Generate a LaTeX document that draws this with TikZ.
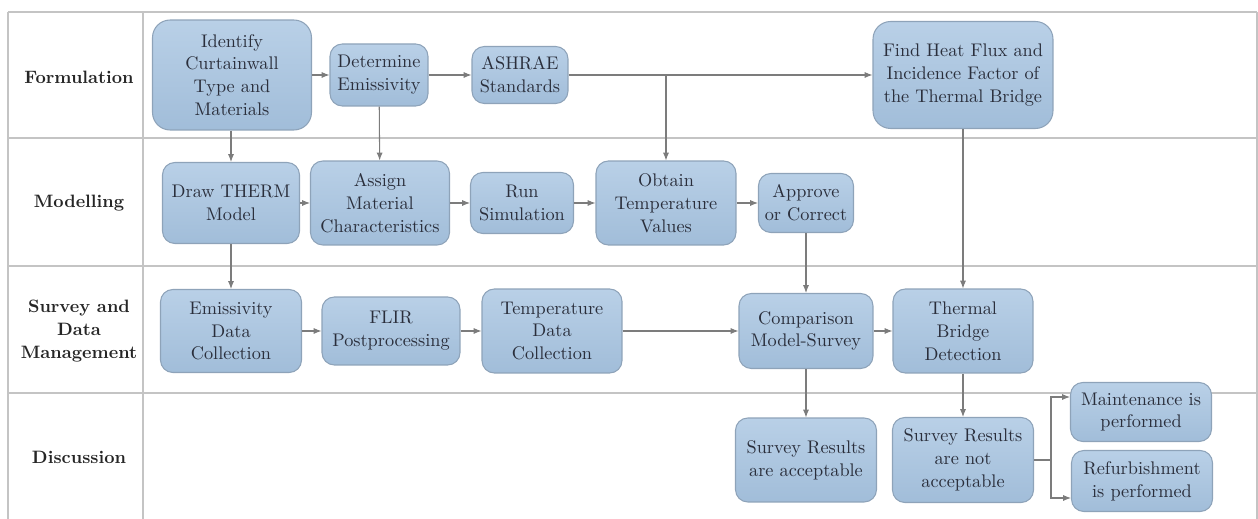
\documentclass[tikz,border=0pt]{standalone}
\usepackage{fontspec}
\usetikzlibrary{arrows.meta}

\definecolor{boxtop}{HTML}{B9D0E7}
\definecolor{boxbot}{HTML}{A1BDD9}
\definecolor{boxline}{HTML}{8EA3B9}
\definecolor{gridline}{HTML}{C4C4C4}
\definecolor{flowline}{HTML}{7C7C7C}
\definecolor{boxtext}{HTML}{2A2E3B}

\tikzset{
  stepbox/.style={draw=boxline, line width=0.6pt, top color=boxtop, bottom color=boxbot,
    rounded corners=7pt, align=center, text=boxtext, inner sep=1pt,
    font=\fontsize{10.4}{13}\selectfont},
  lanelabel/.style={align=center, text=black!85, font=\fontsize{10.2}{13}\selectfont\bfseries},
  grid/.style={draw=gridline, line width=1.1pt},
  flow/.style={draw=flowline, line width=0.6pt, -{Latex[length=4.5pt,width=3.5pt]}},
}

\begin{document}
\begin{tikzpicture}[x=0.02cm,y=-0.02cm]
\useasboundingbox (0,0) rectangle (1258,519);

\foreach \y in {12,138,266,393}
  \draw[grid] (8,\y) -- (1257,\y);
\foreach \x in {8,143,1257}
  \draw[grid] (\x,12) -- (\x,519);

\node[lanelabel] (formlab) at (79,77) {Formulation};
\node[lanelabel] (modlab) at (79,203) {Modelling};
\node[lanelabel] (survlab) at (79,331) {Survey and\\Data\\Management};
\node[lanelabel] (disclab) at (79,457) {Discussion};

\node[stepbox, rounded corners=10pt, minimum width=3.18cm, minimum height=2.2cm] (ident) at (232,75) {Identify\\Curtainwall\\Type and\\Materials};
\node[stepbox, minimum width=1.96cm, minimum height=1.24cm] (emiss) at (379,75) {Determine\\Emissivity};
\node[stepbox, minimum width=1.92cm, minimum height=1.14cm] (ashrae) at (520,75) {ASHRAE\\Standards};
\node[stepbox, rounded corners=10pt, minimum width=3.6cm, minimum height=2.14cm] (heatflux) at (963,75) {Find Heat Flux and\\Incidence Factor of\\the Thermal Bridge};

\node[stepbox, minimum width=2.74cm, minimum height=1.62cm] (therm) at (231,203) {Draw THERM\\Model};
\node[stepbox, minimum width=2.78cm, minimum height=1.68cm] (assign) at (380,203) {Assign\\Material\\Characteristics};
\node[stepbox, minimum width=2.06cm, minimum height=1.22cm] (runsim) at (522,203) {Run\\Simulation};
\node[stepbox, minimum width=2.8cm, minimum height=1.68cm] (obtain) at (666,203) {Obtain\\Temperature\\Values};
\node[stepbox, minimum width=1.9cm, minimum height=1.18cm] (approve) at (806,203) {Approve\\or Correct};

\node[stepbox, minimum width=2.82cm, minimum height=1.66cm] (emisdata) at (231,331) {Emissivity\\Data\\Collection};
\node[stepbox, minimum width=2.76cm, minimum height=1.36cm] (flir) at (391,331) {FLIR\\Postprocessing};
\node[stepbox, minimum width=2.8cm, minimum height=1.68cm] (tempdata) at (552,331) {Temperature\\Data\\Collection};
\node[stepbox, minimum width=2.68cm, minimum height=1.5cm] (compare) at (806,331) {Comparison\\Model-Survey};
\node[stepbox, minimum width=2.8cm, minimum height=1.68cm] (bridge) at (963,331) {Thermal\\Bridge\\Detection};

\node[stepbox, minimum width=2.82cm, minimum height=1.68cm] (accept) at (806,460) {Survey Results\\are acceptable};
\node[stepbox, minimum width=2.82cm, minimum height=1.7cm] (notaccept) at (963,460) {Survey Results\\are not\\acceptable};
\node[stepbox, minimum width=2.82cm, minimum height=1.18cm] (maint) at (1141,412) {Maintenance is\\performed};
\node[stepbox, minimum width=2.82cm, minimum height=1.22cm] (refurb) at (1142,481) {Refurbishment\\is performed};

\coordinate (fork) at (1051,460);

\draw[flow] (ident) -- (emiss);
\draw[flow] (emiss) -- (ashrae);
\draw[flow] (ashrae) -- (heatflux);
\draw[flow] (ashrae.east -| obtain) -- (obtain);
\draw[flow] (ident.south -| therm) -- (therm);
\draw[flow] (emiss) -- (assign);
\draw[flow] (therm) -- (assign);
\draw[flow] (assign) -- (runsim);
\draw[flow] (runsim) -- (obtain);
\draw[flow] (obtain) -- (approve);
\draw[flow] (therm) -- (emisdata);
\draw[flow] (emisdata) -- (flir);
\draw[flow] (flir) -- (tempdata);
\draw[flow] (tempdata) -- (compare);
\draw[flow] (approve) -- (compare);
\draw[flow] (heatflux) -- (bridge);
\draw[flow] (compare) -- (bridge);
\draw[flow] (compare) -- (accept);
\draw[flow] (bridge) -- (notaccept);
\draw[flow] (notaccept) -- (fork) |- ([yshift=0.3cm]maint.west);
\draw[flow] (fork) |- ([yshift=-0.34cm]refurb.west);
\end{tikzpicture}
\end{document}
